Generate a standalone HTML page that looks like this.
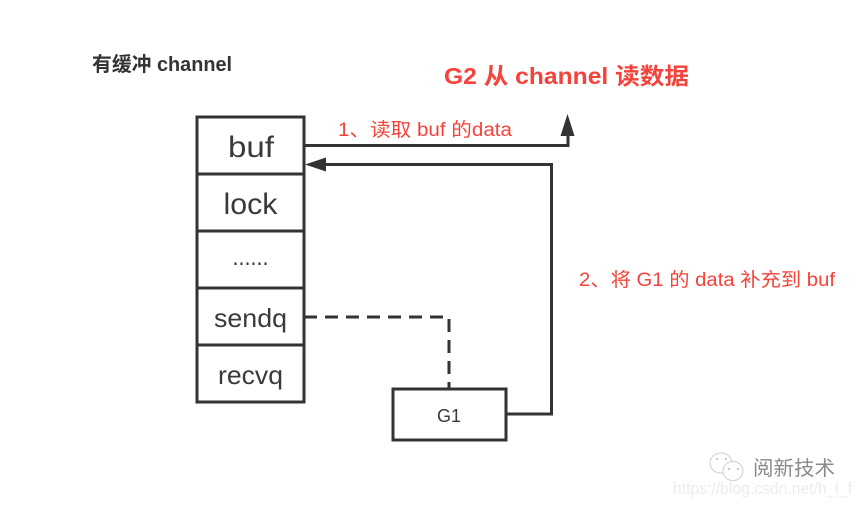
<!DOCTYPE html>
<html>
<head>
<meta charset="utf-8">
<style>
html,body{margin:0;padding:0;background:#fff;width:862px;height:506px;overflow:hidden}
svg{display:block}
text{font-family:"Liberation Sans","Noto Sans CJK SC",sans-serif}
</style>
</head>
<body>
<svg width="862" height="506" viewBox="0 0 862 506" xmlns="http://www.w3.org/2000/svg">
<rect width="862" height="506" fill="#fff"/>
<g fill="none" stroke="#333" stroke-width="3">
<rect x="197" y="117" width="107" height="285"/>
<path d="M197 174H304M197 231H304M197 288H304M197 345H304"/>
<rect x="393" y="389" width="113" height="51"/>
<path d="M304 145.500H568V132"/>
<path d="M506 414H551.500V164.500H322"/>
<path d="M304 317H449V389" stroke-dasharray="13 8"/>
</g>
<path d="M567.500 114L574.500 136H560.500Z" fill="#333"/>
<path d="M305 164.500L326 157.500V171.500Z" fill="#333"/>
<g fill="#3a3a3a" text-anchor="middle">
<text x="251" y="157" font-size="30" textLength="46" lengthAdjust="spacingAndGlyphs">buf</text>
<text x="250.500" y="214" font-size="30" textLength="54" lengthAdjust="spacingAndGlyphs">lock</text>
<text x="250.500" y="265" font-size="24" textLength="36" lengthAdjust="spacingAndGlyphs">......</text>
<text x="250.500" y="327" font-size="26" textLength="73" lengthAdjust="spacingAndGlyphs">sendq</text>
<text x="250.500" y="384" font-size="26" textLength="65" lengthAdjust="spacingAndGlyphs">recvq</text>
<text x="449" y="422" font-size="18" textLength="24" lengthAdjust="spacingAndGlyphs">G1</text>
</g>
<text x="92" y="71" font-size="20" font-weight="bold" fill="#333" textLength="140" lengthAdjust="spacingAndGlyphs">有缓冲 channel</text>
<text x="444" y="84" font-size="23" font-weight="bold" fill="#f5423a" textLength="245" lengthAdjust="spacingAndGlyphs">G2 从 channel 读数据</text>
<text x="338" y="136" font-size="19" fill="#f5423a" textLength="174" lengthAdjust="spacingAndGlyphs">1、读取 buf 的data</text>
<text x="579" y="286" font-size="19" fill="#f5423a" textLength="256" lengthAdjust="spacingAndGlyphs">2、将 G1 的 data 补充到 buf</text>
<g fill="#fff" stroke="#cfcfcf" stroke-width="1">
<ellipse cx="721" cy="463" rx="11" ry="10"/>
<ellipse cx="733" cy="471" rx="10" ry="9.500"/>
</g>
<g fill="#b5b5b5">
<circle cx="717" cy="459" r="1"/><circle cx="726" cy="459" r="1"/>
<circle cx="729" cy="469" r="1"/><circle cx="738" cy="469" r="1"/>
</g>
<text x="753" y="475" font-size="20" fill="#8a8a8a" textLength="82" lengthAdjust="spacingAndGlyphs">阅新技术</text>
<text x="673" y="494" font-size="17" fill="#ececec" textLength="179" lengthAdjust="spacingAndGlyphs">https://blog.csdn.net/h_l_f</text>
</svg>
</body>
</html>
